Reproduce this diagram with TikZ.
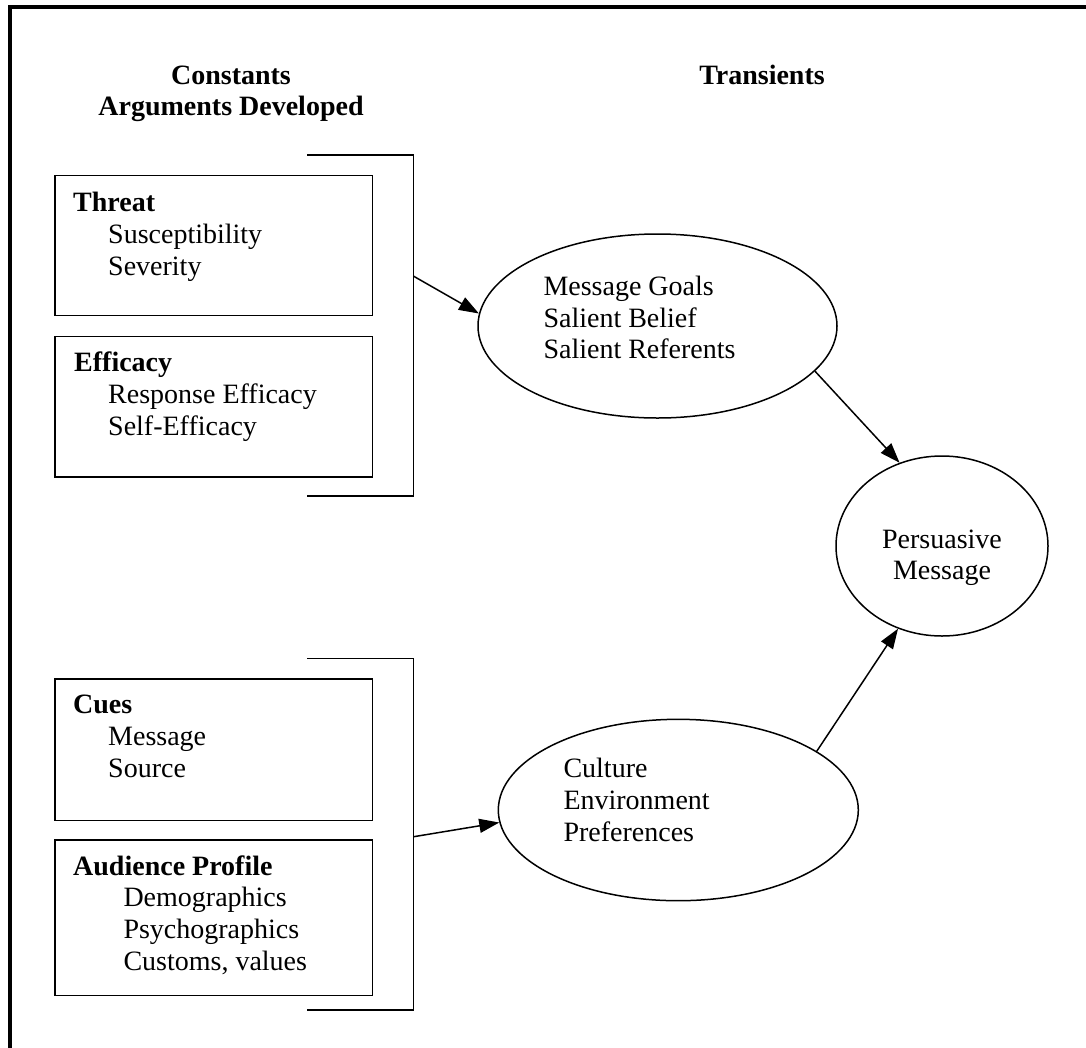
\documentclass[tikz,border=0pt]{standalone}
\usepackage{fontspec}
\setmainfont{Liberation Serif}
\usetikzlibrary{arrows.meta,shapes.geometric}
\newcommand\diafont{\fontsize{28}{32}\selectfont}
\begin{document}
\begin{tikzpicture}[x=1pt,y=-1pt,
  frameline/.style={line width=4pt,line cap=rect},
  thinline/.style={line width=1.5pt},
  box/.style={draw,thinline,rectangle,inner sep=0pt,minimum width=317.7pt},
  oval/.style={draw,thinline,ellipse,inner sep=0pt},
  heading/.style={anchor=base,inner sep=0pt,font=\diafont\bfseries},
  item/.style={anchor=base west,inner sep=0pt,font=\diafont},
  itemb/.style={anchor=base west,inner sep=0pt,font=\diafont\bfseries},
  centred/.style={anchor=base,inner sep=0pt,font=\diafont},
  link/.style={thinline,-{Triangle[length=20pt,width=14pt]}}]
\useasboundingbox (0,0) rectangle (1086,1047);

% outer frame (top and left edges)
\draw[frameline] (10,1047) -- (10,7) -- (1086,7);

% column headings
\node[heading] (hconst) at (231,84.5) {Constants};
\node[heading] (hargs) at (231,115) {Arguments Developed};
\node[heading] (htrans) at (762,84.5) {Transients};

% argument boxes
\node[box,minimum height=140pt] (threat) at (213.85,245.7) {};
\node[box,minimum height=140.5pt] (efficacy) at (213.85,406.75) {};
\node[box,minimum height=141.3pt] (cues) at (213.85,749.65) {};
\node[box,minimum height=155.7pt] (audience) at (213.85,917.85) {};

\node[itemb] (t0) at (73,211.5) {Threat};
\node[item] (t1) at (108,243.5) {Susceptibility};
\node[item] (t2) at (108,275.5) {Severity};

\node[itemb] (f0) at (74,371.7) {Efficacy};
\node[item] (f1) at (108,403.5) {Response Efficacy};
\node[item] (f2) at (108,435.3) {Self-Efficacy};

\node[itemb] (c0) at (73,713.5) {Cues};
\node[item] (c1) at (108,745.5) {Message};
\node[item] (c2) at (108,777) {Source};

\node[itemb] (a0) at (73,875) {Audience Profile};
\node[item] (a1) at (123.3,906.7) {Demographics};
\node[item] (a2) at (123.3,938.3) {Psychographics};
\node[item] (a3) at (123.3,970) {Customs, values};

% brackets grouping the boxes
\coordinate (k1m) at (413.3,276);
\coordinate (k2m) at (413.7,836.7);
\draw[thinline] (307,155) -- (413.3,155) -- (413.3,496) -- (307,496);
\draw[thinline] (307,658.3) -- (413.7,658.3) -- (413.7,1010) -- (307,1010);

% transient ovals
\node[oval,minimum width=359pt,minimum height=184pt] (goals) at (657.5,326) {};
\node[item] (g1) at (543.3,295.5) {Message Goals};
\node[item] (g2) at (543.3,327) {Salient Belief};
\node[item] (g3) at (543.3,358.5) {Salient Referents};

\node[oval,minimum width=360pt,minimum height=181.4pt] (culture) at (678.3,810) {};
\node[item] (u1) at (563.3,777.3) {Culture};
\node[item] (u2) at (563.3,809.3) {Environment};
\node[item] (u3) at (563.3,841.5) {Preferences};

\node[oval,minimum width=212pt,minimum height=180pt] (persuade) at (942,546) {};
\node[centred] (p1) at (942,548.5) {Persuasive};
\node[centred] (p2) at (942,579) {Message};

% connectors
\draw[link] (k1m) -- (goals.176);
\draw[link] (k2m) -- (culture.184);
\draw[link] (goals.-16) -- (persuade.117);
\draw[link] (culture.23.4) -- (persuade.-118);
\end{tikzpicture}
\end{document}
